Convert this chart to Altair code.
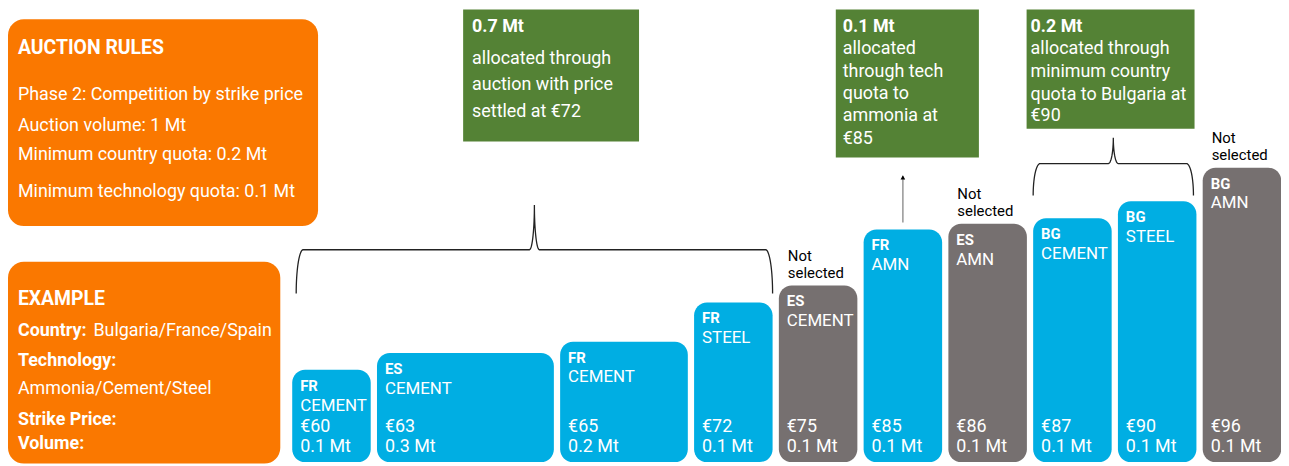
import altair as alt
import numpy as np
import pandas as pd

# ---------------- data ----------------
countries = ["FR", "ES", "FR", "FR", "ES", "FR", "ES", "BG", "BG", "BG"]
technologies = ["CEMENT", "CEMENT", "CEMENT", "STEEL", "CEMENT", "AMN", "AMN", "CEMENT", "STEEL", "AMN"]
strike_prices = [60, 63, 65, 72, 75, 85, 86, 87, 90, 96]
volumes_mt = [0.1, 0.3, 0.2, 0.1, 0.1, 0.1, 0.1, 0.1, 0.1, 0.1]
selected = [True, True, True, True, False, True, False, True, True, False]

rules_title = "AUCTION RULES"
rules_lines = ["Phase 2: Competition by strike price", "Auction volume: 1 Mt",
               "Minimum country quota: 0.2 Mt", "Minimum technology quota: 0.1 Mt"]
example_title = "EXAMPLE"
example_bold = ["Country:", "Technology:", "Strike Price:", "Volume:"]
example_plain = ["Bulgaria/France/Spain", "Ammonia/Cement/Steel"]
green_auction = ["0.7 Mt", "allocated through", "auction with price", "settled at €72"]
green_tech = ["0.1 Mt", "allocated", "through tech", "quota to", "ammonia at", "€85"]
green_country = ["0.2 Mt", "allocated through", "minimum country", "quota to Bulgaria at", "€90"]
not_selected_words = ["Not", "selected"]

# ---------------- layout / style ----------------
FONT = "Roboto"
BLUE, GRAY, ORANGE, GREEN = "#00AEE3", "#767070", "#FA7800", "#548235"
M = 8
W, H = 1281, 458
PX_PER_MT = 495.0
PAD_MT = 29.5 / PX_PER_MT
GAP_MT = 6.3 / PX_PER_MT
START_MT = 286 / PX_PER_MT
PX_PER_EUR = 5.651
BASE_EUR = 43.57
Y_MIN = BASE_EUR - 2.5 / PX_PER_EUR
Y_MAX = Y_MIN + H / PX_PER_EUR
X_MAX = W / PX_PER_MT

xs = alt.Scale(domain=[0, X_MAX], range=[0, W], nice=False, zero=False)
ys = alt.Scale(domain=[Y_MIN, Y_MAX], nice=False, zero=False)

df = pd.DataFrame({"country": countries, "tech": technologies, "price": strike_prices,
                   "vol": volumes_mt, "selected": selected})
step = df["vol"] + PAD_MT + GAP_MT
df["x0"] = START_MT + step.cumsum() - step
df["x1"] = df["x0"] + df["vol"] + PAD_MT
df["xc"] = (df["x0"] + df["x1"]) / 2
df["base"] = BASE_EUR
df["price_label"] = ["€" + str(p) for p in strike_prices]
df["vol_label"] = [f"{v:.1f} Mt" for v in volumes_mt]
df["status"] = np.where(df["selected"], "Selected", "Not selected")


def x_px(v):
    return v * PX_PER_MT


def y_px(p):
    return H - (p - Y_MIN) * PX_PER_EUR


def px_y(py):
    return Y_MIN + (H - py) / PX_PER_EUR


# ---------------- bars ----------------
X = alt.X("x0:Q", scale=xs, axis=None)
bars = alt.Chart(df).mark_rect(cornerRadius=13).encode(
    x=X, x2="x1:Q",
    y=alt.Y("price:Q", scale=ys, axis=None), y2="base:Q",
    color=alt.Color("status:N", scale=alt.Scale(domain=["Selected", "Not selected"],
                                                range=[BLUE, GRAY]), legend=None),
)
tb = alt.Chart(df).encode(x=X)
Yp = alt.Y("price:Q", scale=ys, axis=None)
Yb = alt.Y("base:Q", scale=ys, axis=None)
t_country = tb.mark_text(align="left", baseline="alphabetic", dx=8, dy=21, font=FONT,
                         fontSize=15, fontWeight="bold", color="white").encode(y=Yp, text="country:N")
t_tech = tb.mark_text(align="left", baseline="alphabetic", dx=8, dy=41, font=FONT,
                      fontSize=17, color="white").encode(y=Yp, text="tech:N")
t_price = tb.mark_text(align="left", baseline="alphabetic", dx=8, dy=-30, font=FONT,
                       fontSize=18, color="white").encode(y=Yb, text="price_label:N")
t_vol = tb.mark_text(align="left", baseline="alphabetic", dx=8, dy=-10, font=FONT,
                     fontSize=18, color="white").encode(y=Yb, text="vol_label:N")
ns = tb.transform_filter("!datum.selected")
t_not = ns.mark_text(align="left", baseline="alphabetic", dx=9, dy=-25, font=FONT,
                     fontSize=15, color="black").encode(y=Yp, text=alt.value(not_selected_words[0]))
t_sel = ns.mark_text(align="left", baseline="alphabetic", dx=9, dy=-8, font=FONT,
                     fontSize=15, color="black").encode(y=Yp, text=alt.value(not_selected_words[1]))


# ---------------- braces ----------------
def brace_points(xl, xr, yb, h1, h2, rx=7.0, cr=5.0, n=18):
    xc = (xl + xr) / 2
    yh = yb - h1
    yt = yh - h2
    th = np.linspace(0, np.pi / 2, n)
    pts = [(xl + rx * (1 - np.cos(t)), yb - h1 * np.sin(t)) for t in th]
    pts += [(xc - cr + cr * np.sin(t), yt + h2 * np.cos(t)) for t in th]
    pts += [(xc + cr - cr * np.sin(t), yt + h2 * np.cos(t)) for t in th[::-1]]
    pts += [(xr - rx * (1 - np.cos(t)), yb - h1 * np.sin(t)) for t in th[::-1]]
    return pts


rows = []
groups = [([0, 1, 2, 3], 4, 0, 9, 44, 45), ([7, 8], 0, 3, 6, 32, 26)]
for gi, (idx, lpad, rpad, gap, h1, h2) in enumerate(groups):
    g = df.iloc[idx]
    xl = x_px(g["x0"].min()) + lpad
    xr = x_px(g["x1"].max()) - rpad
    yb = y_px(g["price"].max()) - gap
    for i, (px, py) in enumerate(brace_points(xl, xr, yb, h1, h2)):
        rows.append({"brace": gi, "i": i, "bx": px / PX_PER_MT, "by": px_y(py)})
bdf = pd.DataFrame(rows)
braces = alt.Chart(bdf).mark_line(color="#222222", strokeWidth=1.3).encode(
    x=alt.X("bx:Q", scale=xs, axis=None), y=alt.Y("by:Q", scale=ys, axis=None),
    detail="brace:N", order="i:Q")

# ---------------- arrow (tech quota) ----------------
adf = df.iloc[[5]].copy()
adf["ystart"] = adf["price"] + 7 / PX_PER_EUR
arrow = alt.Chart(adf).mark_rule(color="#9C9C9C", strokeWidth=1.6).encode(
    x=alt.X("xc:Q", scale=xs, axis=None), y=alt.Y("ystart:Q", scale=ys, axis=None),
    y2=alt.value(176 - M))
head = alt.Chart(adf).mark_point(shape="triangle-up", filled=True, size=22, color="black",
                                 opacity=1).encode(
    x=alt.X("xc:Q", scale=xs, axis=None), y=alt.value(177 - M))

# ---------------- panels ----------------
one = pd.DataFrame({"k": [0]})


def box(x1, y1, x2, y2, color, radius=0):
    return alt.Chart(one).mark_rect(color=color, cornerRadius=radius).encode(
        x=alt.value(x1 - M), x2=alt.value(x2 - M), y=alt.value(max(y1 - M, 0)), y2=alt.value(y2 - M))


def txt(s, px, py, size=18, bold=False, color="white"):
    return alt.Chart(one).mark_text(align="left", baseline="alphabetic", font=FONT, fontSize=size,
                                    fontWeight="bold" if bold else "normal", color=color).encode(
        x=alt.value(px - M), y=alt.value(py - M), text=alt.value(s))


layers = [bars, t_country, t_tech, t_price, t_vol, t_not, t_sel, braces, arrow, head]

layers.append(box(8, 18, 320, 226, ORANGE, 16))
layers.append(txt(rules_title, 18, 52.7, 19.5, True))
for s, py in zip(rules_lines, [99.3, 130, 160, 196.7]):
    layers.append(txt(s, 18, py, 18))

layers.append(box(8, 262, 282, 465, ORANGE, 16))
layers.append(txt(example_title, 18, 305.7, 19.5, True))
for s, py in zip(example_bold, [336.7, 366.7, 425.7, 450]):
    layers.append(txt(s, 18, py, 18, True))
layers.append(txt(example_plain[0], 94, 336.7, 18))
layers.append(txt(example_plain[1], 18, 395, 18))

layers.append(box(466, 7, 643, 141, GREEN))
for j, (s, py) in enumerate(zip(green_auction, [30.7, 63.3, 89.3, 116])):
    layers.append(txt(s, 475, py, 18, j == 0))

layers.append(box(841, 7, 985, 157, GREEN))
for j, (s, py) in enumerate(zip(green_tech, [30.7, 53.3, 75.5, 98.3, 120.5, 143.3])):
    layers.append(txt(s, 848, py, 18, j == 0))

layers.append(box(1033, 7, 1202, 128, GREEN))
for j, (s, py) in enumerate(zip(green_country, [30.7, 53.3, 76, 98.7, 120.5])):
    layers.append(txt(s, 1037, py, 18, j == 0))

chart = alt.layer(*layers).properties(
    width=W, height=H, padding=0, background="white",
    autosize=alt.AutoSizeParams(type="none"),
).configure_view(strokeWidth=0)

chart.save("out.html", embed_options={"renderer": "svg", "actions": False})
